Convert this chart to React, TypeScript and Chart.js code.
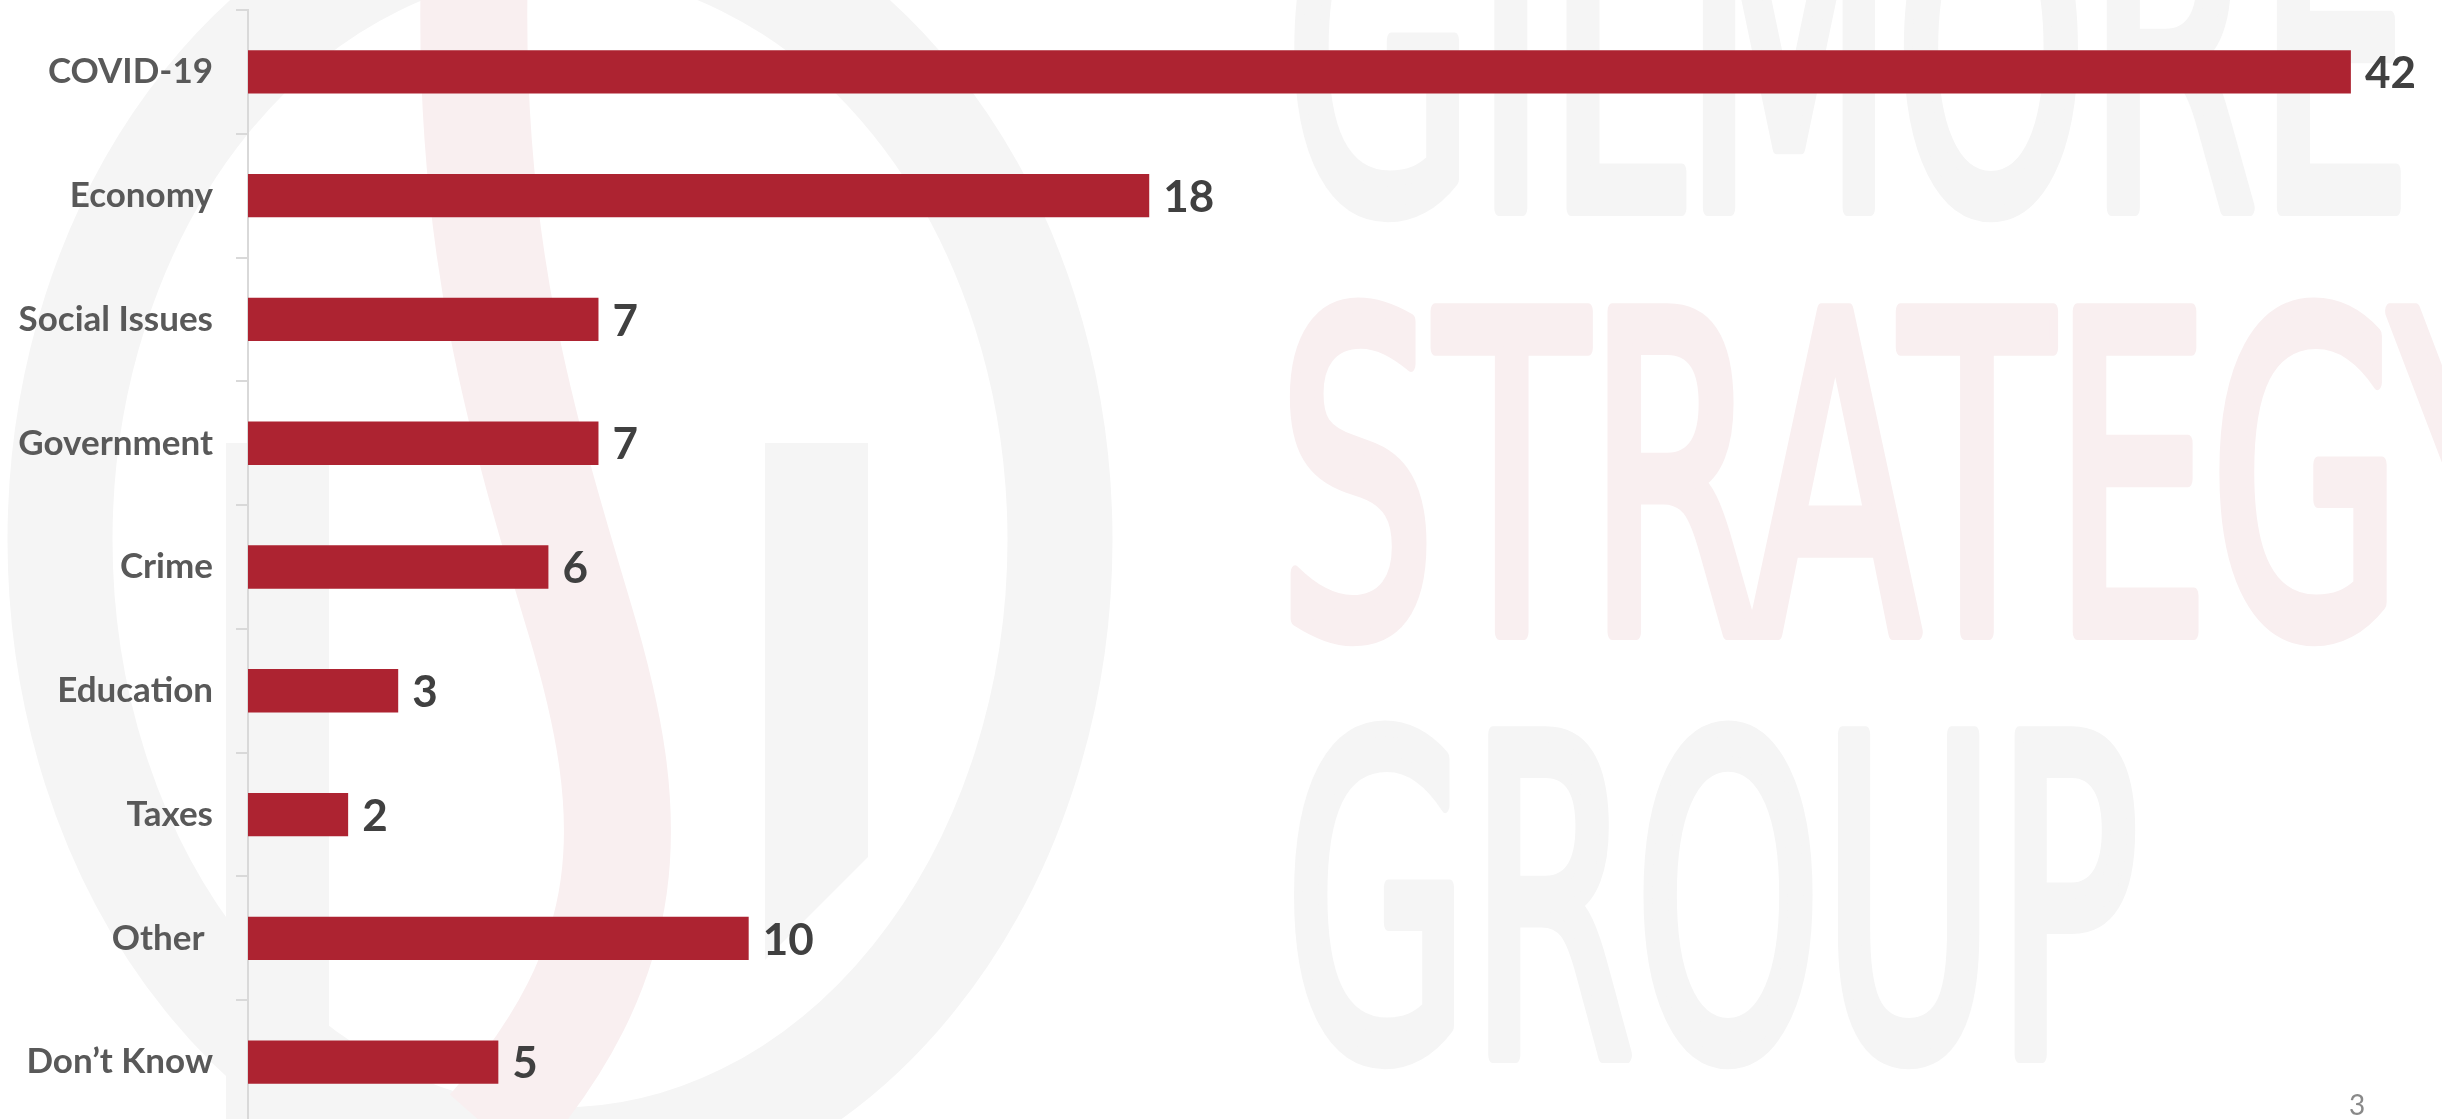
import React, { useEffect, useRef } from "react";
import { Chart, registerables } from "chart.js";

Chart.register(...registerables);

// ---- data ----
const categories = [
  "COVID-19",
  "Economy",
  "Social Issues",
  "Government",
  "Crime",
  "Education",
  "Taxes",
  "Other ",
  "Don’t Know",
];
const values = [42, 18, 7, 7, 6, 3, 2, 10, 5];
const xMin = 0;
const xMax = 43.82;
const pageNumber = "3";
const watermarkWords = ["GILMORE", "STRATEGY", "GROUP"];

// ---- styles ----
const BAR_COLOR = "#AD2331";
const LABEL_COLOR = "#595959";
const VALUE_COLOR = "#404040";
const AXIS_COLOR = "#d9d9d9";
const WM_GREY = "#f5f5f5";
const WM_PINK = "#f9eff0";

const W = 2442;
const H = 1119;
const CANVAS_H = 1124;

export default function App() {
  const ref = useRef<HTMLCanvasElement>(null);

  useEffect(() => {
    document.body.style.margin = "0";
    document.body.style.overflow = "hidden";
    const valueLabels = {
      id: "valueLabels",
      afterDatasetsDraw(chart: any) {
        const ctx = chart.ctx;
        const meta = chart.getDatasetMeta(0);
        ctx.save();
        ctx.font = "bold 44px Lato";
        ctx.fillStyle = VALUE_COLOR;
        ctx.textAlign = "left";
        ctx.textBaseline = "middle";
        meta.data.forEach((el: any, i: number) => {
          ctx.fillText(String(values[i]), el.x + 14, el.y + 2);
        });
        ctx.restore();
      },
    };
    const chart = new Chart(ref.current as HTMLCanvasElement, {
      type: "bar",
      data: {
        labels: categories,
        datasets: [
          {
            data: values,
            backgroundColor: BAR_COLOR,
            borderWidth: 0,
            barPercentage: 0.35,
            categoryPercentage: 1,
          },
        ],
      },
      options: {
        indexAxis: "y",
        animation: false,
        responsive: false,
        maintainAspectRatio: false,
        devicePixelRatio: 1,
        layout: { padding: { top: 10, bottom: 0, left: 0, right: 0 } },
        plugins: { legend: { display: false }, tooltip: { enabled: false } },
        scales: {
          x: { display: false, min: xMin, max: xMax },
          y: {
            afterFit: (s: any) => {
              s.width = 248;
              s.paddingTop = 0;
              s.paddingBottom = 0;
            },
            border: { display: true, color: AXIS_COLOR, width: 2 },
            grid: {
              display: true,
              drawOnChartArea: false,
              drawTicks: true,
              tickLength: 12,
              color: AXIS_COLOR,
              lineWidth: 2,
              offset: true,
            },
            ticks: {
              color: LABEL_COLOR,
              font: { family: "Lato", weight: "bold", size: 35 },
              padding: 23,
              autoSkip: false,
            },
          },
        },
      },
      plugins: [valueLabels],
    } as any);
    return () => chart.destroy();
  }, []);

  const wmText = {
    fontFamily: "DejaVu Sans",
    fontSize: 440,
    strokeWidth: 16,
    strokeLinejoin: "round" as const,
    lengthAdjust: "spacingAndGlyphs",
  };

  return (
    <div
      style={{
        position: "fixed",
        left: 0,
        top: 0,
        width: W,
        height: H,
        overflow: "hidden",
        background: "#ffffff",
      }}
    >
      <svg
        width={W}
        height={H}
        style={{ position: "absolute", left: 0, top: 0 }}
      >
        <ellipse cx={560} cy={540} rx={500} ry={620} fill="none" stroke={WM_GREY} strokeWidth={105} />
        <rect x={226} y={443} width={103} height={700} fill={WM_GREY} />
        <polygon points="765,443 868,443 868,857 765,960" fill={WM_GREY} />
        <path
          d="M 474 -10 C 470 250, 520 420, 580 620 C 640 820, 640 960, 490 1130"
          fill="none"
          stroke={WM_PINK}
          strokeWidth={107}
        />
        <text x={1285} y={208} {...wmText} fill={WM_GREY} stroke={WM_GREY} textLength={1127}>
          {watermarkWords[0]}
        </text>
        <text x={1278} y={632} {...wmText} fill={WM_PINK} stroke={WM_PINK} textLength={1264}>
          {watermarkWords[1]}
        </text>
        <text x={1285} y={1055} {...wmText} fill={WM_GREY} stroke={WM_GREY} textLength={854}>
          {watermarkWords[2]}
        </text>
      </svg>
      <canvas
        ref={ref}
        width={W}
        height={CANVAS_H}
        style={{ position: "absolute", left: 0, top: 0, width: W, height: CANVAS_H }}
      />
      <div
        style={{
          position: "absolute",
          left: 2349,
          top: 1090,
          fontFamily: "Lato",
          fontSize: 28,
          lineHeight: 1,
          color: "#898989",
        }}
      >
        {pageNumber}
      </div>
    </div>
  );
}
